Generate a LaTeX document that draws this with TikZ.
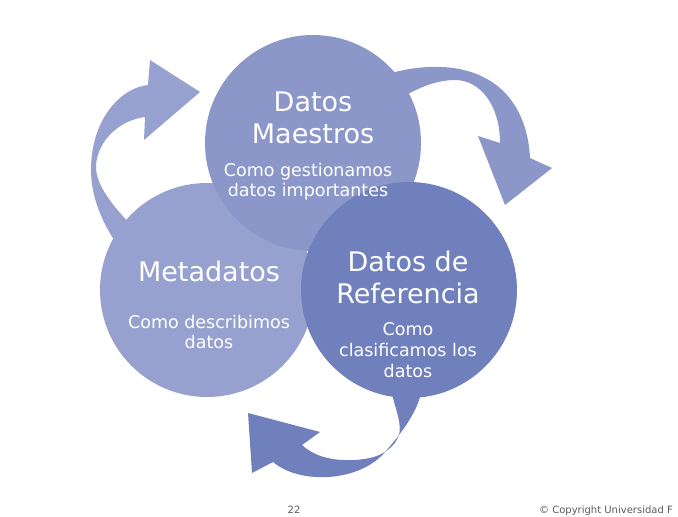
\documentclass[tikz,border=0pt]{standalone}
\usepackage{fontspec}
\setmainfont{DejaVu Sans}
\definecolor{cMeta}{RGB}{151,161,207}
\definecolor{cMaes}{RGB}{139,151,200}
\definecolor{cRef}{RGB}{112,128,188}
\definecolor{cFoot}{RGB}{90,90,90}
\begin{document}
\begin{tikzpicture}[x=1pt,y=-1pt,
  disc/.style={circle,draw=none,inner sep=0pt,minimum size=#1},
  bigtxt/.style={text=white,font=\fontsize{27}{32}\selectfont,anchor=base,inner sep=0pt},
  smalltxt/.style={text=white,font=\fontsize{17.5}{21}\selectfont,anchor=base,inner sep=0pt},
  foottxt/.style={text=cFoot,font=\fontsize{10}{12}\selectfont,anchor=base,inner sep=0pt}]
\useasboundingbox (0,0) rectangle (678,517);
% left curved arrow
\fill[cMeta] (200,92) -- (150,60) -- (148,85)
  .. controls (120,88) and (91,120) .. (91,170)
  .. controls (91,200) and (105,230) .. (125,255)
  -- (150,245)
  .. controls (118,212) and (95,188) .. (96,165)
  .. controls (98,140) and (120,120) .. (145,117)
  -- (144,140) -- cycle;
% top-right curved arrow
\fill[cMaes] (505,205) -- (478,136) -- (500,143)
  .. controls (500,105) and (480,80) .. (455,80)
  .. controls (440,80) and (425,85) .. (410,93)
  -- (390,105) -- (395,72)
  .. controls (440,61) and (482,67) .. (507,95)
  .. controls (522,112) and (529,135) .. (530,158)
  -- (552,168) -- cycle;
% bottom curved arrow
\fill[cRef] (392,380) -- (393,398)
  .. controls (396,410) and (402,425) .. (399,435)
  .. controls (395,447) and (383,455) .. (370,458)
  .. controls (350,462) and (320,462) .. (302,445)
  -- (320,432) -- (248,413) -- (252,473) -- (273,462)
  .. controls (300,485) and (360,482) .. (385,452)
  .. controls (400,435) and (415,415) .. (420,397)
  -- (420,380) -- cycle;
% circles
\node[disc=214pt,fill=cMeta] (meta) at (207,290) {};
\node[disc=216pt,fill=cMaes] (maes) at (313,143) {};
\node[disc=216pt,fill=cRef] (ref) at (409,290) {};
% texts: Datos Maestros
\node[bigtxt] (maesA) at (313,111) {Datos};
\node[bigtxt] (maesB) at (313,143) {Maestros};
\node[smalltxt] (maesC) at (308,176) {Como gestionamos};
\node[smalltxt] (maesD) at (308,196) {datos importantes};
% Metadatos
\node[bigtxt] (metaA) at (209,281) {Metadatos};
\node[smalltxt] (metaB) at (209,328) {Como describimos};
\node[smalltxt] (metaC) at (209,348) {datos};
% Datos de Referencia
\node[bigtxt] (refA) at (408,271) {Datos de};
\node[bigtxt] (refB) at (408,303) {Referencia};
\node[smalltxt] (refC) at (408,335) {Como};
\node[smalltxt] (refD) at (408,356) {clasificamos los};
\node[smalltxt] (refE) at (408,377) {datos};
% footer
\node[foottxt] (page) at (294,513) {22};
\node[foottxt,anchor=base west] (copy) at (539,513) {© Copyright Universidad F};
\end{tikzpicture}
\end{document}
